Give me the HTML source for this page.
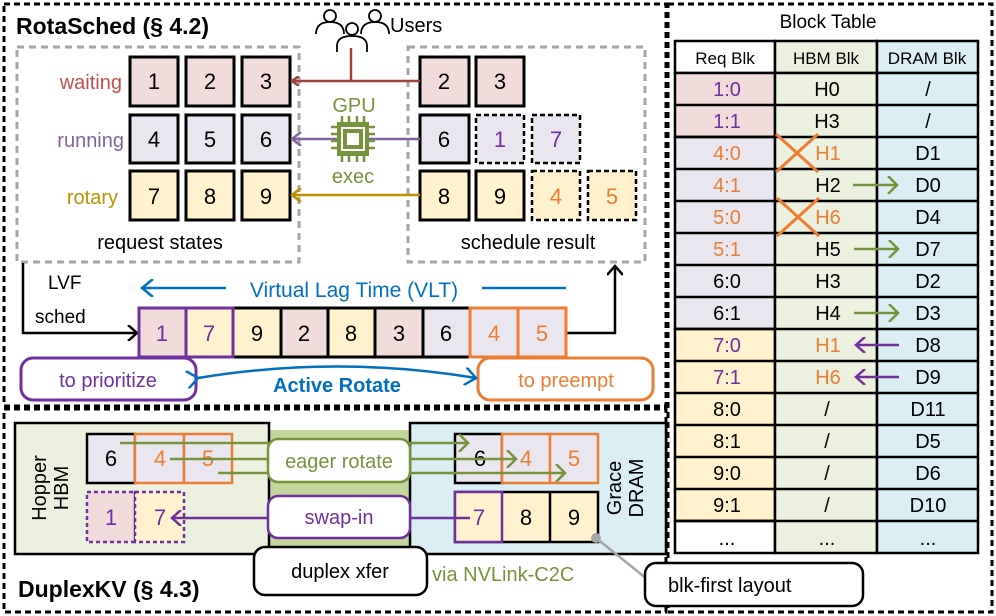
<!DOCTYPE html><html><head><meta charset="utf-8"><style>
html,body{margin:0;padding:0;background:#fff}
svg{display:block;font-family:"Liberation Sans",sans-serif}
</style></head><body>
<svg width="996" height="616" viewBox="0 0 996 616" xmlns="http://www.w3.org/2000/svg">
<defs>
<marker id="aR" markerWidth="10" markerHeight="10" refX="8" refY="5" orient="auto" markerUnits="userSpaceOnUse"><path d="M1,0 L8,5 L1,10" fill="none" stroke="#A0413C" stroke-width="2.5"/></marker>
<marker id="aP" markerWidth="12" markerHeight="14" refX="10" refY="7" orient="auto" markerUnits="userSpaceOnUse"><path d="M1,0 L10,7 L1,14" fill="none" stroke="#8064A2" stroke-width="2.5"/></marker>
<marker id="aP2" markerWidth="12" markerHeight="16" refX="10" refY="8" orient="auto" markerUnits="userSpaceOnUse"><path d="M1,0 L10,8 L1,16" fill="none" stroke="#7030A0" stroke-width="2.5"/></marker>
<marker id="aY" markerWidth="12" markerHeight="14" refX="10" refY="7" orient="auto" markerUnits="userSpaceOnUse"><path d="M1,0 L10,7 L1,14" fill="none" stroke="#BF9000" stroke-width="2.5"/></marker>
<marker id="aK" markerWidth="12" markerHeight="16" refX="10" refY="8" orient="auto" markerUnits="userSpaceOnUse"><path d="M1,0 L10,8 L1,16" fill="none" stroke="#000" stroke-width="2.5"/></marker>
<marker id="aB" markerWidth="14" markerHeight="18" refX="12" refY="9" orient="auto" markerUnits="userSpaceOnUse"><path d="M1,0 L12,9 L1,18" fill="none" stroke="#0070C0" stroke-width="2.5"/></marker>
<marker id="aG" markerWidth="12" markerHeight="18" refX="10" refY="9" orient="auto" markerUnits="userSpaceOnUse"><path d="M1,0 L10,9 L1,18" fill="none" stroke="#77933C" stroke-width="2.5"/></marker>
</defs>

<rect x="4" y="4" width="662" height="402" fill="none" stroke="#000" stroke-width="3" stroke-dasharray="6,4"/>
<rect x="4" y="409" width="662" height="203" fill="none" stroke="#000" stroke-width="3" stroke-dasharray="6,4"/>
<rect x="668" y="4" width="324" height="608" fill="none" stroke="#000" stroke-width="3" stroke-dasharray="6,4"/>

<text x="16" y="34" font-size="23" font-weight="bold">RotaSched (§ 4.2)</text>

<g fill="none" stroke="#000" stroke-width="1.8">
<circle cx="330" cy="16" r="6"/><path d="M316,34 q0,-12 14,-12 q14,0 14,12"/>
<circle cx="375" cy="16" r="6"/><path d="M361,34 q0,-12 14,-12 q14,0 14,12"/>
<circle cx="352" cy="29" r="6" fill="#fff"/><path d="M337,52 v-6 q0,-10 15,-10 q15,0 15,10 v6"/>
</g>
<text x="390" y="32" font-size="20">Users</text>

<rect x="17" y="47" width="282" height="215" fill="none" stroke="#A6A6A6" stroke-width="3" stroke-dasharray="7,5"/>
<rect x="408" y="47" width="237" height="215" fill="none" stroke="#A6A6A6" stroke-width="3" stroke-dasharray="7,5"/>

<g font-size="20" text-anchor="end">
<text x="122" y="89" fill="#C0504D">waiting</text>
<text x="124" y="147" fill="#8064A2">running</text>
<text x="118" y="204" fill="#BF9000">rotary</text>
</g>

<g stroke="#000" stroke-width="3" font-size="22" text-anchor="middle">
<rect x="130" y="57" width="48" height="49" fill="#F2DCDB"/><rect x="186" y="57" width="48" height="49" fill="#F2DCDB"/><rect x="242" y="57" width="48" height="49" fill="#F2DCDB"/>
<rect x="130" y="115" width="48" height="48" fill="#EAE6F0"/><rect x="186" y="115" width="48" height="48" fill="#EAE6F0"/><rect x="242" y="115" width="48" height="48" fill="#EAE6F0"/>
<rect x="130" y="171" width="48" height="49" fill="#FFF2CC"/><rect x="186" y="171" width="48" height="49" fill="#FFF2CC"/><rect x="242" y="171" width="48" height="49" fill="#FFF2CC"/>
<rect x="420" y="57" width="49" height="49" fill="#F2DCDB"/><rect x="476" y="57" width="48" height="49" fill="#F2DCDB"/>
<rect x="420" y="115" width="49" height="48" fill="#EAE6F0"/>
<rect x="420" y="171" width="49" height="49" fill="#FFF2CC"/><rect x="476" y="171" width="48" height="49" fill="#FFF2CC"/>
</g>
<g stroke="#000" stroke-width="2.5" stroke-dasharray="5,3">
<rect x="476" y="115" width="48" height="48" fill="#EAE6F0"/><rect x="532" y="115" width="48" height="48" fill="#EAE6F0"/>
<rect x="532" y="171" width="48" height="49" fill="#FFF2CC"/><rect x="588" y="171" width="48" height="49" fill="#FFF2CC"/>
</g>
<g font-size="22" text-anchor="middle">
<text x="154" y="89">1</text><text x="210" y="89">2</text><text x="266" y="89">3</text>
<text x="154" y="147">4</text><text x="210" y="147">5</text><text x="266" y="147">6</text>
<text x="154" y="204">7</text><text x="210" y="204">8</text><text x="266" y="204">9</text>
<text x="444" y="89">2</text><text x="500" y="89">3</text>
<text x="444" y="147">6</text><text x="500" y="147" fill="#7030A0">1</text><text x="556" y="147" fill="#7030A0">7</text>
<text x="444" y="204">8</text><text x="500" y="204">9</text><text x="556" y="204" fill="#ED7D31">4</text><text x="612" y="204" fill="#ED7D31">5</text>
</g>

<line x1="351" y1="48" x2="351" y2="81" stroke="#A0413C" stroke-width="2.5"/>
<line x1="420" y1="81" x2="292" y2="81" stroke="#A0413C" stroke-width="2.5" marker-end="url(#aR)"/>
<line x1="420" y1="139" x2="292" y2="139" stroke="#8064A2" stroke-width="2.5" marker-end="url(#aP)"/>
<line x1="420" y1="195" x2="292" y2="195" stroke="#BF9000" stroke-width="2.5" marker-end="url(#aY)"/>

<text x="354" y="112" font-size="20" fill="#77933C" text-anchor="middle">GPU</text>
<g fill="#77933C">
<g stroke="#77933C" stroke-width="2.5">
<line x1="331" y1="127" x2="375" y2="127"/><line x1="331" y1="134" x2="375" y2="134"/><line x1="331" y1="141" x2="375" y2="141"/><line x1="331" y1="148" x2="375" y2="148"/>
<line x1="342" y1="116" x2="342" y2="162"/><line x1="349" y1="116" x2="349" y2="162"/><line x1="357" y1="116" x2="357" y2="162"/><line x1="364" y1="116" x2="364" y2="162"/>
</g>
<rect x="337" y="122" width="32" height="34"/>
</g>
<rect x="342" y="128" width="22" height="22" fill="none" stroke="#fff" stroke-width="2"/>
<rect x="347" y="133" width="12" height="12" fill="#fff"/>
<text x="353" y="183" font-size="20" fill="#77933C" text-anchor="middle">exec</text>

<g font-size="20" text-anchor="middle">
<text x="160" y="249">request states</text>
<text x="528" y="249">schedule result</text>
</g>

<text x="48" y="289" font-size="19">LVF</text>
<text x="35" y="323" font-size="19">sched</text>
<polyline points="23,263 23,333 137,333" fill="none" stroke="#000" stroke-width="2.5" marker-end="url(#aK)"/>
<polyline points="566,333 615,333 615,266" fill="none" stroke="#000" stroke-width="2.5" marker-end="url(#aK)"/>

<line x1="566" y1="288" x2="142" y2="288" stroke="#0070C0" stroke-width="2.5" marker-end="url(#aB)"/>
<rect x="226" y="276" width="256" height="24" fill="#fff"/>
<text x="354" y="297" font-size="21" fill="#0070C0" text-anchor="middle">Virtual Lag Time (VLT)</text>

<g stroke="#000" stroke-width="3">
<rect x="139" y="308" width="427" height="49" fill="#fff"/>
<rect x="139" y="308" width="47" height="49" fill="#F2DCDB"/>
<rect x="186" y="308" width="47" height="49" fill="#FFF2CC"/>
<rect x="233" y="308" width="48" height="49" fill="#FFF2CC"/>
<rect x="281" y="308" width="47" height="49" fill="#F2DCDB"/>
<rect x="328" y="308" width="47" height="49" fill="#FFF2CC"/>
<rect x="375" y="308" width="48" height="49" fill="#F2DCDB"/>
<rect x="423" y="308" width="47" height="49" fill="#EAE6F0"/>
<rect x="470" y="308" width="48" height="49" fill="#EAE6F0" stroke="#ED7D31"/>
<rect x="518" y="308" width="48" height="49" fill="#EAE6F0" stroke="#ED7D31"/>
</g>
<rect x="139" y="308" width="94" height="49" fill="none" stroke="#7030A0" stroke-width="3"/>
<line x1="186" y1="308" x2="186" y2="357" stroke="#7030A0" stroke-width="3"/>
<g font-size="22" text-anchor="middle">
<text x="162" y="341" fill="#7030A0">1</text><text x="209" y="341" fill="#7030A0">7</text>
<text x="257" y="341">9</text><text x="304" y="341">2</text><text x="351" y="341">8</text><text x="399" y="341">3</text><text x="446" y="341">6</text>
<text x="494" y="341" fill="#ED7D31">4</text><text x="542" y="341" fill="#ED7D31">5</text>
</g>

<rect x="21" y="358" width="175" height="42" rx="12" fill="#fff" stroke="#7030A0" stroke-width="3"/>
<text x="108" y="387" font-size="20" fill="#7030A0" text-anchor="middle">to prioritize</text>
<rect x="478" y="358" width="175" height="42" rx="12" fill="#fff" stroke="#ED7D31" stroke-width="3"/>
<text x="566" y="387" font-size="20" fill="#ED7D31" text-anchor="middle">to preempt</text>
<path d="M198,378 Q337,355 476,378" fill="none" stroke="#0070C0" stroke-width="2.5" marker-start="url(#aB)" marker-end="url(#aB)"/>
<text x="337" y="392" font-size="20" font-weight="bold" fill="#0070C0" text-anchor="middle">Active Rotate</text>

<rect x="269" y="430" width="141" height="116" fill="#C3D69B"/>
<rect x="15" y="423" width="254" height="131" fill="#EBF1DE" stroke="#000" stroke-width="2.5"/>
<rect x="410" y="423" width="256" height="131" fill="#DAEEF3" stroke="#000" stroke-width="2.5"/>
<text transform="translate(46,488) rotate(-90)" font-size="20" text-anchor="middle">Hopper</text>
<text transform="translate(68,488) rotate(-90)" font-size="20" text-anchor="middle">HBM</text>
<text transform="translate(621,488) rotate(-90)" font-size="20" text-anchor="middle">Grace</text>
<text transform="translate(643,488) rotate(-90)" font-size="20" text-anchor="middle">DRAM</text>

<g stroke-width="2.5">
<rect x="87" y="434" width="48" height="49" fill="#EAE6F0" stroke="#000"/>
<rect x="135" y="434" width="49" height="49" fill="#EAE6F0" stroke="#ED7D31"/>
<rect x="184" y="434" width="48" height="49" fill="#EAE6F0" stroke="#ED7D31"/>
<rect x="455" y="434" width="47" height="49" fill="#EAE6F0" stroke="#000"/>
<rect x="502" y="434" width="48" height="49" fill="#EAE6F0" stroke="#ED7D31"/>
<rect x="550" y="434" width="48" height="49" fill="#EAE6F0" stroke="#ED7D31"/>
<rect x="455" y="492" width="143" height="50" fill="#FFF2CC" stroke="#000"/>
<line x1="550" y1="492" x2="550" y2="542" stroke="#000"/>
<rect x="455" y="492" width="47" height="50" fill="#FFF2CC" stroke="#7030A0"/>
</g>
<g stroke="#7030A0" stroke-width="2.5" stroke-dasharray="4,3">
<rect x="87" y="492" width="48" height="50" fill="#F2DCDB"/>
<rect x="135" y="492" width="49" height="50" fill="#FFF2CC"/>
</g>
<g font-size="22" text-anchor="middle">
<text x="111" y="466">6</text><text x="160" y="466" fill="#ED7D31">4</text><text x="208" y="466" fill="#ED7D31">5</text>
<text x="480" y="466">6</text><text x="526" y="466" fill="#ED7D31">4</text><text x="574" y="466" fill="#ED7D31">5</text>
<text x="111" y="525" fill="#7030A0">1</text><text x="160" y="525" fill="#7030A0">7</text>
<text x="479" y="525" fill="#7030A0">7</text><text x="526" y="525">8</text><text x="574" y="525">9</text>
</g>
<g stroke="#77933C" stroke-width="2.5" fill="none">
<line x1="120" y1="443" x2="468" y2="443" marker-end="url(#aG)"/>
<line x1="170" y1="459" x2="516" y2="459" marker-end="url(#aG)"/>
<line x1="218" y1="473" x2="565" y2="473" marker-end="url(#aG)"/>
</g>
<line x1="470" y1="518" x2="172" y2="518" stroke="#7030A0" stroke-width="2.5" marker-end="url(#aP2)"/>
<rect x="268" y="439" width="142" height="43" rx="10" fill="#fff" stroke="#77933C" stroke-width="2.5"/>
<text x="339" y="468" font-size="20" fill="#77933C" text-anchor="middle">eager rotate</text>
<rect x="268" y="496" width="142" height="42" rx="10" fill="#fff" stroke="#7030A0" stroke-width="2.5"/>
<text x="339" y="524" font-size="20" fill="#7030A0" text-anchor="middle">swap-in</text>
<rect x="254" y="547" width="173" height="48" rx="11" fill="#fff" stroke="#000" stroke-width="2.5"/>
<text x="340" y="578" font-size="20" text-anchor="middle">duplex xfer</text>
<text x="432" y="581" font-size="20" fill="#77933C">via NVLink-C2C</text>
<text x="18" y="597" font-size="23" font-weight="bold">DuplexKV (§ 4.3)</text>
<line x1="596" y1="538" x2="652" y2="583" stroke="#A6A6A6" stroke-width="2.5"/>
<circle cx="596" cy="538" r="5" fill="#A6A6A6"/>
<rect x="645" y="563" width="218" height="43" rx="11" fill="#fff" stroke="#000" stroke-width="2.5"/>
<text x="668" y="592" font-size="20">blk-first layout</text>

<!-- Block Table -->
<text x="828" y="28" font-size="19" text-anchor="middle">Block Table</text>
<g stroke="#000" stroke-width="2.5">
<rect x="675" y="41" width="100" height="32" fill="#fff"/>
<rect x="775" y="41" width="102" height="32" fill="#EBF1DE"/>
<rect x="877" y="41" width="101" height="32" fill="#DAEEF3"/>
<rect x="675" y="73" width="100" height="64" fill="#F2DCDB"/>
<rect x="675" y="137" width="100" height="192" fill="#EAE6F0"/>
<rect x="675" y="329" width="100" height="192" fill="#FFF2CC"/>
<rect x="675" y="521" width="100" height="32" fill="#fff"/>
<rect x="775" y="73" width="102" height="480" fill="#EBF1DE"/>
<rect x="877" y="73" width="101" height="480" fill="#DAEEF3"/>
<path d="M675,105H978M675,137H978M675,169H978M675,201H978M675,233H978M675,265H978M675,297H978M675,329H978M675,361H978M675,393H978M675,425H978M675,457H978M675,489H978M675,521H978"/>
</g>
<g font-size="17" text-anchor="middle">
<text x="725" y="64">Req Blk</text><text x="826" y="64">HBM Blk</text><text x="927" y="64">DRAM Blk</text>
</g>
<g font-size="20" text-anchor="middle">
<text x="727" y="96" fill="#7030A0">1:0</text><text x="827" y="96">H0</text><text x="928" y="96">/</text>
<text x="727" y="128" fill="#7030A0">1:1</text><text x="827" y="128">H3</text><text x="928" y="128">/</text>
<text x="727" y="160" fill="#ED7D31">4:0</text><text x="828" y="160" fill="#ED7D31">H1</text><text x="928" y="160">D1</text>
<text x="727" y="192" fill="#ED7D31">4:1</text><text x="828" y="192">H2</text><text x="928" y="192">D0</text>
<text x="727" y="224" fill="#ED7D31">5:0</text><text x="828" y="224" fill="#ED7D31">H6</text><text x="928" y="224">D4</text>
<text x="727" y="256" fill="#ED7D31">5:1</text><text x="828" y="256">H5</text><text x="928" y="256">D7</text>
<text x="727" y="288">6:0</text><text x="828" y="288">H3</text><text x="928" y="288">D2</text>
<text x="727" y="320">6:1</text><text x="828" y="320">H4</text><text x="928" y="320">D3</text>
<text x="727" y="352" fill="#7030A0">7:0</text><text x="828" y="352" fill="#ED7D31">H1</text><text x="928" y="352">D8</text>
<text x="727" y="384" fill="#7030A0">7:1</text><text x="828" y="384" fill="#ED7D31">H6</text><text x="928" y="384">D9</text>
<text x="727" y="416">8:0</text><text x="827" y="416">/</text><text x="928" y="416">D11</text>
<text x="727" y="448">8:1</text><text x="827" y="448">/</text><text x="928" y="448">D5</text>
<text x="727" y="480">9:0</text><text x="827" y="480">/</text><text x="928" y="480">D6</text>
<text x="727" y="512">9:1</text><text x="827" y="512">/</text><text x="928" y="512">D10</text>
<text x="727" y="545">...</text><text x="827" y="545">...</text><text x="928" y="545">...</text>
</g>
<g stroke="#ED7D31" stroke-width="3">
<path d="M776,134 L818,172 M776,172 L818,134"/>
<path d="M777,198 L819,236 M777,236 L819,198"/>
</g>
<g stroke="#77933C" stroke-width="2.5" fill="none">
<line x1="853" y1="185" x2="897" y2="185" marker-end="url(#aG)"/>
<line x1="854" y1="249" x2="898" y2="249" marker-end="url(#aG)"/>
<line x1="854" y1="313" x2="898" y2="313" marker-end="url(#aG)"/>
</g>
<line x1="899" y1="345" x2="856" y2="345" stroke="#7030A0" stroke-width="2.5" marker-end="url(#aP2)"/>
<line x1="899" y1="377" x2="856" y2="377" stroke="#7030A0" stroke-width="2.5" marker-end="url(#aP2)"/>
</svg>
</body></html>
